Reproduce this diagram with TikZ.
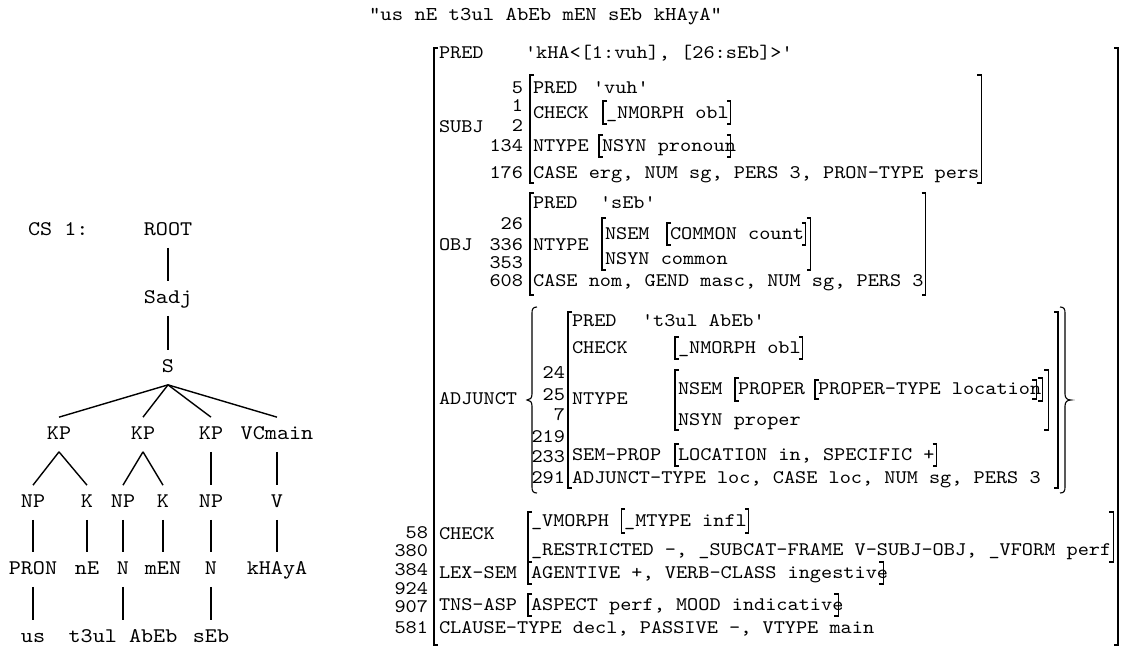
\documentclass[tikz,border=0pt]{standalone}
\usepackage{fontspec}
\setmonofont{lmmono10-regular.otf}[FakeStretch=1.107]
\usetikzlibrary{calc}
\tikzset{
  tr/.style={font=\ttfamily\fontsize{20.8}{24}\selectfont, inner sep=0pt, outer sep=0pt, text height=12.7pt, text depth=0pt},
  av/.style={font=\ttfamily\fontsize{19.2}{22}\selectfont, inner sep=0pt, outer sep=0pt, text height=11.7pt, text depth=0pt, anchor=west},
  nm/.style={av, anchor=east},
  ttl/.style={font=\ttfamily\fontsize{19.6}{22}\selectfont, inner sep=0pt, outer sep=0pt, text height=12pt, text depth=0pt, anchor=west},
  br/.style={line width=1.1pt},
  edge/.style={line width=1.4pt},
}
\newcommand\lbx[3]{\draw[br] (#1+4,#2) -- (#1,#2) -- (#1,#3) -- (#1+4,#3);}
\newcommand\rbx[3]{\draw[br] (#1-4,#2) -- (#1,#2) -- (#1,#3) -- (#1-4,#3);}
\newcommand\rbn[4]{\draw[br] let \p1=(#1.east) in (\x1+#4pt-4pt,-#2pt) -- (\x1+#4pt,-#2pt) -- (\x1+#4pt,-#3pt) -- (\x1+#4pt-4pt,-#3pt);}
\newcommand\lbn[4]{\draw[br] let \p1=(#1.west) in (\x1+#4pt+4pt,-#2pt) -- (\x1+#4pt,-#2pt) -- (\x1+#4pt,-#3pt) -- (\x1+#4pt+4pt,-#3pt);}
\begin{document}
\begin{tikzpicture}[x=1pt,y=-1pt]
\fill[white] (0,0) rectangle (1121,648);
\useasboundingbox (0,0) rectangle (1121,648);

% title
\node[ttl] (title) at (369,14) {"us nE t3ul AbEb mEN sEb kHAyA"};

% ---------------- tree ----------------
\node[tr, anchor=west] (cs) at (28,229) {CS 1:};
\node[tr] (root) at (168,229) {ROOT};
\node[tr] (sadj) at (168,297) {Sadj};
\node[tr] (s) at (168,366) {S};
\node[tr] (kp1) at (59,433) {KP};
\node[tr] (kp2) at (143,433) {KP};
\node[tr] (kp3) at (211,433) {KP};
\node[tr] (vc) at (277,433) {VCmain};
\node[tr] (np1) at (33,501) {NP};
\node[tr] (k1) at (87,501) {K};
\node[tr] (np2) at (123,501) {NP};
\node[tr] (k2) at (163,501) {K};
\node[tr] (np3) at (211,501) {NP};
\node[tr] (v) at (277,501) {V};
\node[tr] (pron) at (33,568) {PRON};
\node[tr] (ne) at (87,568) {nE};
\node[tr] (n1) at (123,568) {N};
\node[tr] (men) at (163,568) {mEN};
\node[tr] (n2) at (211,568) {N};
\node[tr] (kh) at (277,568) {kHAyA};
\node[tr] (us) at (33,636) {us};
\node[tr] (tb) at (123,636) {t3ul AbEb};
\node[tr] (seb) at (211,636) {sEb};

\newcommand\tedge[2]{\draw[edge] ([yshift=-12.5pt]#1.south) -- ([yshift=9.5pt]#2.north);}
\tedge{root}{sadj}
\tedge{sadj}{s}
\tedge{s}{kp1}\tedge{s}{kp2}\tedge{s}{kp3}\tedge{s}{vc}
\tedge{kp1}{np1}\tedge{kp1}{k1}
\tedge{kp2}{np2}\tedge{kp2}{k2}
\tedge{kp3}{np3}\tedge{vc}{v}
\tedge{np1}{pron}\tedge{k1}{ne}\tedge{np2}{n1}\tedge{k2}{men}\tedge{np3}{n2}\tedge{v}{kh}
\tedge{pron}{us}\tedge{n1}{tb}\tedge{n2}{seb}

% ---------------- AVM ----------------
\lbx{434}{48}{645}
\rbx{1118}{48}{645}

\node[av] (pred) at (439,53) {PRED};
\node[av] (predv) at (525,53) {'kHA<[1:vuh], [26:sEb]>'};

% SUBJ
\node[av] (subj) at (439,127) {SUBJ};
\node[nm] at (523,87.5) {5};
\node[nm] at (523,106) {1};
\node[nm] at (523,126) {2};
\node[nm] at (523,146) {134};
\node[nm] at (523,173) {176};
\lbx{530}{75}{183}
\node[av] (spred) at (533,87.5) {PRED};
\node[av] (spredv) at (593,87.5) {'vuh'};
\node[av] (scheck) at (533,112.5) {CHECK};
\lbx{603}{101}{124}
\node[av] (scheckv) at (606,112.5) {\_NMORPH obl};
\rbn{scheckv}{101}{124}{2}
\node[av] (sntype) at (533,146) {NTYPE};
\lbx{599}{135}{157}
\node[av] (sntypev) at (602,146) {NSYN pronoun};
\rbn{sntypev}{135}{157}{-5}
\node[av] (scase) at (533,173) {CASE erg, NUM sg, PERS 3, PRON-TYPE pers};
\rbn{scase}{75}{183}{2}

% OBJ
\node[av] (obj) at (439,245) {OBJ};
\node[nm] at (523,224) {26};
\node[nm] at (523,245) {336};
\node[nm] at (523,263) {353};
\node[nm] at (523,281) {608};
\lbx{530}{193}{295}
\node[av] (opred) at (533,203) {PRED};
\node[av] (opredv) at (600,203) {'sEb'};
\node[av] (ontype) at (533,245) {NTYPE};
\lbx{602}{218}{270}
\node[av] (onsem) at (605,234) {NSEM};
\lbx{667}{223}{245}
\node[av] (ocommon) at (670,234) {COMMON count};
\rbn{ocommon}{223}{245}{2}
\rbn{ocommon}{218}{270}{7}
\node[av] (onsyn) at (605,259) {NSYN common};
\node[av] (ocase) at (533,281) {CASE nom, GEND masc, NUM sg, PERS 3};
\rbn{ocase}{193}{295}{2}

% ADJUNCT
\node[av] (adj) at (439,399) {ADJUNCT};
\draw[br] (537,307) .. controls (533,307) and (532,309) .. (532,313) -- (532,394)
  .. controls (532,398) and (530,400) .. (527,400)
  .. controls (530,400) and (532,402) .. (532,406) -- (532,487)
  .. controls (532,491) and (533,493) .. (537,493);
\draw[br] (1060,307) .. controls (1064,307) and (1065,309) .. (1065,313) -- (1065,394)
  .. controls (1065,398) and (1067,400) .. (1071,400)
  .. controls (1067,400) and (1065,402) .. (1065,406) -- (1065,487)
  .. controls (1065,491) and (1064,493) .. (1060,493);
\lbx{568}{312}{488}
\rbx{1058}{312}{488}
\node[nm] at (565,373) {24};
\node[nm] at (565,395) {25};
\node[nm] at (565,415) {7};
\node[nm] at (565,437) {219};
\node[nm] at (565,457) {233};
\node[nm] at (565,478) {291};
\node[av] (apred) at (572,321) {PRED};
\node[av] (apredv) at (642,321) {'t3ul AbEb'};
\node[av] (acheck) at (572,348) {CHECK};
\lbx{675}{337}{359}
\node[av] (acheckv) at (678,348) {\_NMORPH obl};
\rbn{acheckv}{337}{359}{2}
\node[av] (antype) at (572,399) {NTYPE};
\lbx{675}{370}{430}
\node[av] (ansem) at (678,389) {NSEM};
\lbx{735}{378}{401}
\node[av] (aprop) at (738,389) {PROPER};
\lbx{815}{380}{399}
\node[av] (aptype) at (818,389) {PROPER-TYPE location};
\rbn{aptype}{380}{399}{-5}
\rbn{aptype}{378}{401}{1}
\rbn{aptype}{370}{430}{7}
\node[av] (ansyn) at (678,420) {NSYN proper};
\node[av] (asem) at (572,455) {SEM-PROP};
\lbx{675}{444}{466}
\node[av] (asemv) at (678,455) {LOCATION in, SPECIFIC +};
\rbn{asemv}{444}{466}{2}
\node[av] (atype) at (572,478) {ADJUNCT-TYPE loc, CASE loc, NUM sg, PERS 3};

% outer CHECK etc.
\node[nm] at (428,533) {58};
\node[nm] at (428,551) {380};
\node[nm] at (428,570) {384};
\node[nm] at (428,589) {924};
\node[nm] at (428,607) {907};
\node[nm] at (428,628) {581};
\node[av] (check) at (439,534) {CHECK};
\lbx{528}{512}{562}
\node[av] (vmorph) at (531,521) {\_VMORPH};
\node[av] (mtype) at ([xshift=15pt]vmorph.east) {\_MTYPE infl};
\lbn{mtype}{509}{533}{-3}
\rbn{mtype}{509}{533}{2}
\node[av] (restr) at (531,550) {\_RESTRICTED -, \_SUBCAT-FRAME V-SUBJ-OBJ, \_VFORM perf};
\rbn{restr}{512}{562}{2}
\node[av] (lex) at (439,573) {LEX-SEM};
\lbx{528}{562}{584}
\node[av] (lexv) at (531,573) {AGENTIVE +, VERB-CLASS ingestive};
\rbn{lexv}{562}{584}{-5}
\node[av] (tns) at (439,605) {TNS-ASP};
\lbx{528}{594}{616}
\node[av] (tnsv) at (531,605) {ASPECT perf, MOOD indicative};
\rbn{tnsv}{594}{616}{-5}
\node[av] (clause) at (439,628) {CLAUSE-TYPE decl, PASSIVE -, VTYPE main};
\end{tikzpicture}
\end{document}
